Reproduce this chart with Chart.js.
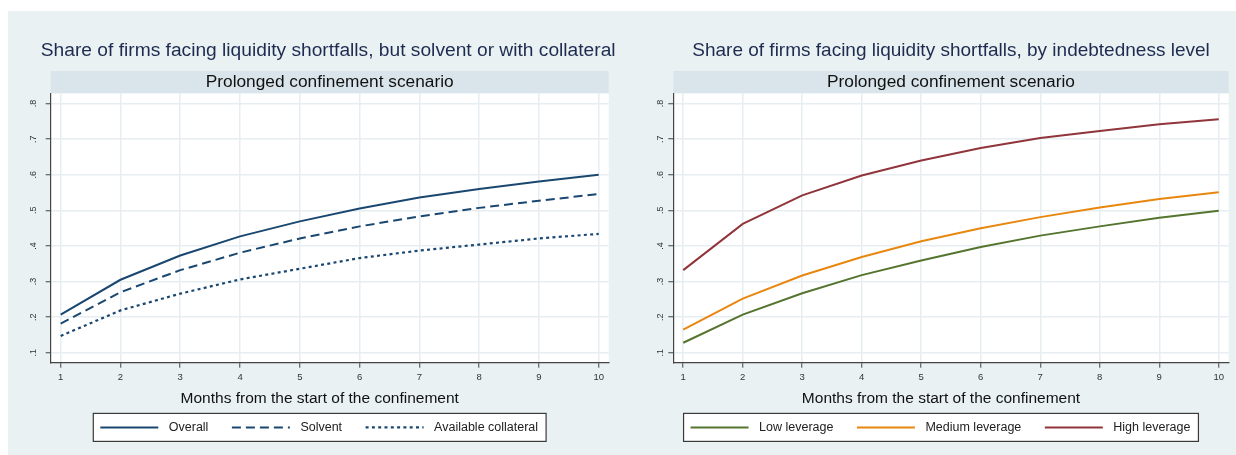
<!DOCTYPE html>
<html>
<head>
<meta charset="utf-8">
<script src="https://cdn.jsdelivr.net/npm/chart.js@4.4.1/dist/chart.umd.min.js"></script>
<style>
  html, body { margin: 0; padding: 0; background: #fff; }
  #bg { position: absolute; left: 8px; top: 11px; width: 1228px; height: 444px; background: #e9f1f3; }
  .panel { position: absolute; top: 0; width: 618px; height: 455px; }
</style>
</head>
<body>
<div id="bg"></div>
<div class="panel" style="left:0"><canvas id="leftChart"></canvas></div>
<div class="panel" style="left:618px"><canvas id="rightChart"></canvas></div>
<script>
  const months = [1, 2, 3, 4, 5, 6, 7, 8, 9, 10];
  const yTicks = [0.1, 0.2, 0.3, 0.4, 0.5, 0.6, 0.7, 0.8];

  const overall = [0.207, 0.305, 0.373, 0.427, 0.469, 0.505, 0.536, 0.56, 0.581, 0.6];
  const solvent = [0.182, 0.27, 0.332, 0.381, 0.421, 0.455, 0.483, 0.507, 0.527, 0.546];
  const collateral = [0.147, 0.219, 0.266, 0.306, 0.336, 0.366, 0.387, 0.404, 0.421, 0.434];

  const lowLev = [0.128, 0.207, 0.267, 0.318, 0.359, 0.397, 0.429, 0.455, 0.479, 0.499];
  const medLev = [0.165, 0.252, 0.317, 0.369, 0.413, 0.45, 0.481, 0.508, 0.532, 0.551];
  const highLev = [0.332, 0.462, 0.542, 0.598, 0.64, 0.675, 0.703, 0.723, 0.742, 0.756];

  const X_TITLE = "Months from the start of the confinement";
  const SUBTITLE = "Prolonged confinement scenario";

  const FONT = "'Liberation Sans', Arial, sans-serif";
  const SUB_SIZE = 17.3;
  const SUB_PAD = { top: 0.8, bottom: 0.7 };

  function pts(values) {
    return months.map((m, i) => ({ x: m, y: values[i] }));
  }

  // white plot region + grey band behind the subtitle
  const panelDecor = {
    id: "panelDecor",
    afterLayout(chart, args, opts) {
      // let a long title run past the plot width instead of being squeezed
      const t = chart.titleBlock;
      if (t) {
        t.left += opts.titleShift - 30;
        t.right += opts.titleShift + 30;
        t.width = t.right - t.left;
      }
    },
    beforeDraw(chart) {
      const { ctx, chartArea: a } = chart;
      ctx.save();
      ctx.fillStyle = "#fff";
      ctx.fillRect(a.left, a.top, a.right - a.left, a.bottom - a.top);
      const bandH = SUB_SIZE * 1.2 + SUB_PAD.top + SUB_PAD.bottom;
      ctx.fillStyle = "#d9e5eb";
      ctx.fillRect(a.left, a.top - bandH, a.right - a.left, bandH);
      ctx.restore();
    },
  };

  // x title and stata-like boxed legend, both centred a bit left of the plot
  const boxLegend = {
    id: "boxLegend",
    afterDraw(chart, args, opts) {
      const ctx = chart.ctx;
      const sets = chart.data.datasets;
      const cx = (chart.chartArea.left + chart.chartArea.right) / 2 + opts.shift;
      const base = chart.chartArea.bottom;
      ctx.save();

      ctx.font = "15.5px " + FONT;
      ctx.fillStyle = "#111";
      ctx.textAlign = "center";
      ctx.textBaseline = "middle";
      ctx.fillText(X_TITLE, cx, base + 36.3);

      ctx.font = "12.5px " + FONT;
      const widths = sets.map((d) => ctx.measureText(d.label).width);
      const textW = widths.reduce((s, w) => s + w, 0);
      const total = opts.padL + sets.length * (opts.lineLen + opts.gap) + textW + (sets.length - 1) * opts.spacing + opts.padR;
      const left = cx - total / 2;
      const top = base + 50.7;
      const h = 28;
      ctx.fillStyle = "#fff";
      ctx.fillRect(left, top, total, h);
      ctx.strokeStyle = "#3a3a3a";
      ctx.lineWidth = 1.2;
      ctx.strokeRect(left, top, total, h);
      let x = left + opts.padL;
      const y = top + h / 2;
      sets.forEach((d, i) => {
        ctx.beginPath();
        ctx.setLineDash(d.borderDash || []);
        ctx.strokeStyle = d.borderColor;
        ctx.lineWidth = d.borderWidth;
        ctx.moveTo(x, y);
        ctx.lineTo(x + opts.lineLen, y);
        ctx.stroke();
        ctx.setLineDash([]);
        x += opts.lineLen + opts.gap;
        ctx.fillStyle = "#222";
        ctx.textAlign = "left";
        ctx.fillText(d.label, x, y + 0.5);
        x += widths[i] + opts.spacing;
      });
      ctx.restore();
    },
  };

  function makeChart(id, title, titleSize, titleShift, datasets, pad, yLabelPad) {
    const el = document.getElementById(id);
    return new Chart(el.getContext("2d"), {
      type: "line",
      data: { datasets },
      plugins: [panelDecor, boxLegend],
      options: {
        responsive: true,
        maintainAspectRatio: false,
        animation: false,
        layout: { padding: pad },
        elements: { point: { radius: 0 }, line: { tension: 0 } },
        plugins: {
          legend: { display: false },
          tooltip: { enabled: false },
          title: {
            display: true,
            text: title,
            fullSize: false,
            color: "#1e2b50",
            font: { family: FONT, size: titleSize, weight: "normal" },
            padding: { top: 50.5 - titleSize * 0.6, bottom: 71 - 50.5 - titleSize * 0.6 },
          },
          subtitle: {
            display: true,
            text: SUBTITLE,
            fullSize: false,
            color: "#111",
            font: { family: FONT, size: SUB_SIZE, weight: "normal" },
            padding: SUB_PAD,
          },
          panelDecor: { titleShift },
          boxLegend: { padL: 7, padR: 8, lineLen: 58, gap: 10.5, spacing: 23.5, shift: -10 },
        },
        scales: {
          x: {
            type: "linear",
            min: 0.833,
            max: 10.167,
            afterBuildTicks: (s) => { s.ticks = months.map((v) => ({ value: v })); },
            grid: { color: "#e6eef1", lineWidth: 1.5, tickColor: "#444", tickLength: 5, tickWidth: 1 },
            border: { color: "#444", width: 1.2 },
            ticks: { color: "#333", padding: 4.3, font: { family: FONT, size: 9.5 }, callback: (v) => String(v) },
          },
          y: {
            type: "linear",
            min: 0.072,
            max: 0.829,
            afterBuildTicks: (s) => { s.ticks = yTicks.map((v) => ({ value: v })); },
            grid: { color: "#e6eef1", lineWidth: 1.5, tickColor: "#444", tickLength: 5, tickWidth: 1 },
            border: { color: "#444", width: 1.2 },
            ticks: {
              color: "#333",
              padding: yLabelPad,
              minRotation: 90,
              maxRotation: 90,
              crossAlign: "center",
              font: { family: FONT, size: 9 },
              callback: (v) => v.toFixed(1).replace(/^0/, ""),
            },
          },
        },
      },
    });
  }

  document.addEventListener("DOMContentLoaded", function () {
    makeChart(
      "leftChart",
      "Share of firms facing liquidity shortfalls, but solvent or with collateral",
      19.2,
      -1.5,
      [
        { label: "Overall", data: pts(overall), borderColor: "#1a476f", borderWidth: 2 },
        { label: "Solvent", data: pts(solvent), borderColor: "#1a476f", borderWidth: 2, borderDash: [9, 5] },
        { label: "Available collateral", data: pts(collateral), borderColor: "#1a476f", borderWidth: 2.2, borderDash: [3, 3.3] },
      ],
      { top: 0, left: 17.7, right: 9.3, bottom: 67.3 },
      8.6
    );
    makeChart(
      "rightChart",
      "Share of firms facing liquidity shortfalls, by indebtedness level",
      19,
      0,
      [
        { label: "Low leverage", data: pts(lowLev), borderColor: "#55752f", borderWidth: 2 },
        { label: "Medium leverage", data: pts(medLev), borderColor: "#e8870f", borderWidth: 2 },
        { label: "High leverage", data: pts(highLev), borderColor: "#90353b", borderWidth: 2 },
      ],
      { top: 0, left: 31.7, right: 7.3, bottom: 67.3 },
      3.9
    );
  });
</script>
</body>
</html>
